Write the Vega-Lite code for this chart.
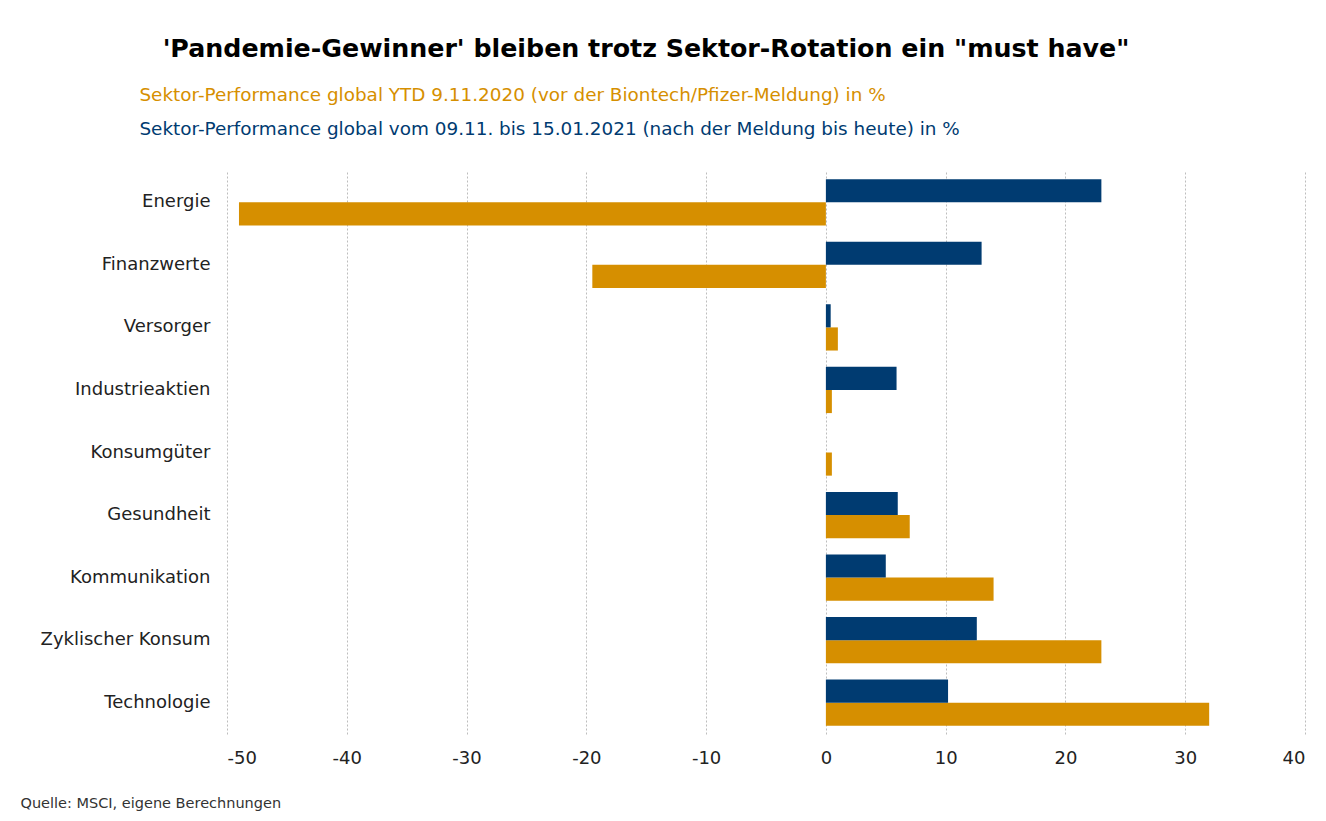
{
  "$schema": "https://vega.github.io/schema/vega-lite/v6.json",
  "width": 1078,
  "height": 563,
  "autosize": "none",
  "padding": {"left": 227, "top": 171, "right": 21, "bottom": 87},
  "background": "white",
  "config": {"font": "DejaVu Sans", "view": {"stroke": null}},
  "title": {
    "text": "'Pandemie-Gewinner' bleiben trotz Sektor-Rotation ein \"must have\"",
    "fontSize": 25.3,
    "fontWeight": "bold",
    "color": "#000000",
    "anchor": "middle",
    "frame": "group",
    "dx": -120,
    "offset": 24
  },
  "datasets": {
    "bars": [
      {"sektor": "Energie", "serie": "Sektor-Performance global YTD 9.11.2020 (vor der Biontech/Pfizer-Meldung) in %", "wert": -49.0},
      {"sektor": "Energie", "serie": "Sektor-Performance global vom 09.11. bis 15.01.2021 (nach der Meldung bis heute) in %", "wert": 23.0},
      {"sektor": "Finanzwerte", "serie": "Sektor-Performance global YTD 9.11.2020 (vor der Biontech/Pfizer-Meldung) in %", "wert": -19.5},
      {"sektor": "Finanzwerte", "serie": "Sektor-Performance global vom 09.11. bis 15.01.2021 (nach der Meldung bis heute) in %", "wert": 13.0},
      {"sektor": "Versorger", "serie": "Sektor-Performance global YTD 9.11.2020 (vor der Biontech/Pfizer-Meldung) in %", "wert": 1.0},
      {"sektor": "Versorger", "serie": "Sektor-Performance global vom 09.11. bis 15.01.2021 (nach der Meldung bis heute) in %", "wert": 0.4},
      {"sektor": "Industrieaktien", "serie": "Sektor-Performance global YTD 9.11.2020 (vor der Biontech/Pfizer-Meldung) in %", "wert": 0.5},
      {"sektor": "Industrieaktien", "serie": "Sektor-Performance global vom 09.11. bis 15.01.2021 (nach der Meldung bis heute) in %", "wert": 5.9},
      {"sektor": "Konsumgüter", "serie": "Sektor-Performance global YTD 9.11.2020 (vor der Biontech/Pfizer-Meldung) in %", "wert": 0.5},
      {"sektor": "Konsumgüter", "serie": "Sektor-Performance global vom 09.11. bis 15.01.2021 (nach der Meldung bis heute) in %", "wert": 0.0},
      {"sektor": "Gesundheit", "serie": "Sektor-Performance global YTD 9.11.2020 (vor der Biontech/Pfizer-Meldung) in %", "wert": 7.0},
      {"sektor": "Gesundheit", "serie": "Sektor-Performance global vom 09.11. bis 15.01.2021 (nach der Meldung bis heute) in %", "wert": 6.0},
      {"sektor": "Kommunikation", "serie": "Sektor-Performance global YTD 9.11.2020 (vor der Biontech/Pfizer-Meldung) in %", "wert": 14.0},
      {"sektor": "Kommunikation", "serie": "Sektor-Performance global vom 09.11. bis 15.01.2021 (nach der Meldung bis heute) in %", "wert": 5.0},
      {"sektor": "Zyklischer Konsum", "serie": "Sektor-Performance global YTD 9.11.2020 (vor der Biontech/Pfizer-Meldung) in %", "wert": 23.0},
      {"sektor": "Zyklischer Konsum", "serie": "Sektor-Performance global vom 09.11. bis 15.01.2021 (nach der Meldung bis heute) in %", "wert": 12.6},
      {"sektor": "Technologie", "serie": "Sektor-Performance global YTD 9.11.2020 (vor der Biontech/Pfizer-Meldung) in %", "wert": 32.0},
      {"sektor": "Technologie", "serie": "Sektor-Performance global vom 09.11. bis 15.01.2021 (nach der Meldung bis heute) in %", "wert": 10.2}
    ]
  },
  "layer": [
    {
      "mark": {"type": "rule", "color": "#d9d9d9", "strokeWidth": 1.5},
      "encoding": {"x": {"datum": 0, "type": "quantitative"}}
    },
    {
      "data": {"name": "bars"},
      "mark": {"type": "bar"},
      "encoding": {
        "y": {
          "field": "sektor",
          "type": "nominal",
          "sort": ["Energie", "Finanzwerte", "Versorger", "Industrieaktien", "Konsumgüter", "Gesundheit", "Kommunikation", "Zyklischer Konsum", "Technologie"],
          "scale": {"paddingInner": 0.26, "paddingOuter": 0.13},
          "axis": {
            "title": null,
            "domain": false,
            "ticks": false,
            "grid": false,
            "labelFontSize": 18,
            "labelPadding": 17,
            "labelColor": "#222222",
            "labelLimit": 400
          }
        },
        "yOffset": {
          "field": "serie",
          "type": "nominal",
          "scale": {
            "domain": [
              "Sektor-Performance global vom 09.11. bis 15.01.2021 (nach der Meldung bis heute) in %",
              "Sektor-Performance global YTD 9.11.2020 (vor der Biontech/Pfizer-Meldung) in %"
            ],
            "paddingInner": 0,
            "paddingOuter": 0
          }
        },
        "x": {
          "field": "wert",
          "type": "quantitative",
          "scale": {"domain": [-50, 40], "nice": false, "zero": false},
          "axis": {
            "values": [-50, -40, -30, -20, -10, 0, 10, 20, 30, 40],
            "labelExpr": "'' + datum.value",
            "title": "Quelle: MSCI, eigene Berechnungen",
            "titleAnchor": "start",
            "titleAlign": "left",
            "titleX": -207,
            "titleY": 62,
            "titleFontSize": 14.5,
            "titleFontWeight": "normal",
            "titleColor": "#333333",
            "domain": false,
            "ticks": false,
            "grid": true,
            "gridDash": [2, 2],
            "gridColor": "#bdbdbd",
            "labelFontSize": 18,
            "labelPadding": 15,
            "labelColor": "#222222"
          }
        },
        "color": {
          "field": "serie",
          "type": "nominal",
          "scale": {
            "domain": [
              "Sektor-Performance global YTD 9.11.2020 (vor der Biontech/Pfizer-Meldung) in %",
              "Sektor-Performance global vom 09.11. bis 15.01.2021 (nach der Meldung bis heute) in %"
            ],
            "range": ["#D68F00", "#003B71"]
          },
          "legend": {
            "title": null,
            "orient": "none",
            "legendX": -106,
            "legendY": -85,
            "direction": "vertical",
            "symbolSize": 0,
            "symbolOpacity": 0,
            "symbolStrokeWidth": 0,
            "labelOffset": 0,
            "labelFontSize": 18.4,
            "labelLimit": 1200,
            "rowPadding": 15,
            "encode": {
              "labels": {"update": {"fill": {"signal": "scale('color', datum.value)"}}}
            }
          }
        }
      }
    }
  ]
}
